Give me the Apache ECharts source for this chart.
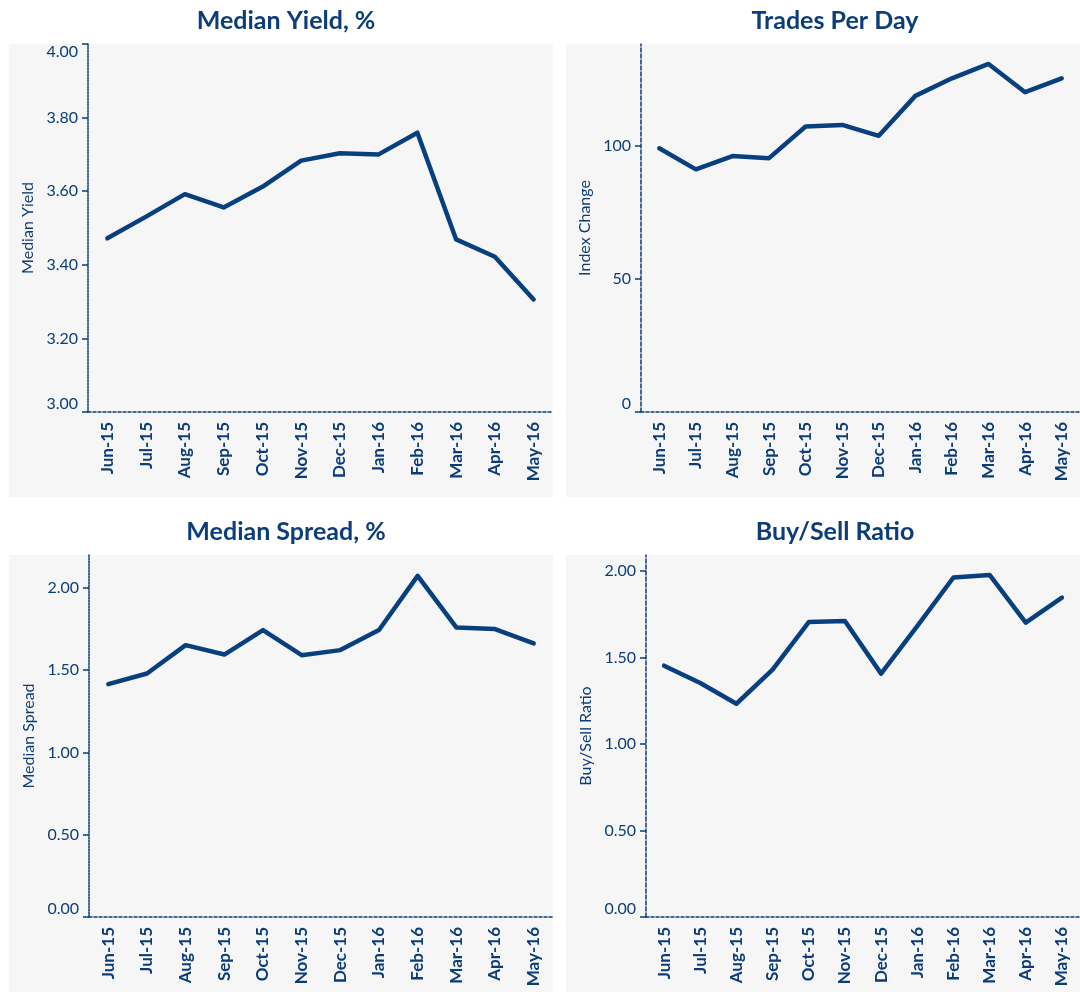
<!DOCTYPE html>
<html>
<head>
<meta charset="utf-8">
<script src="https://cdn.jsdelivr.net/npm/echarts@6/dist/echarts.min.js"></script>
<style>
  html, body { margin: 0; padding: 0; background: #fff; overflow: hidden; }
  .panel { position: absolute; background: #f6f6f6; }
  #chart { position: absolute; left: 0; top: 0; width: 1080px; height: 992px; }
</style>
</head>
<body>
<div class="panel" style="left:9px;top:44px;width:544px;height:453px"></div>
<div class="panel" style="left:566px;top:44px;width:528px;height:453px"></div>
<div class="panel" style="left:9px;top:555px;width:544px;height:437px"></div>
<div class="panel" style="left:566px;top:555px;width:528px;height:437px"></div>
<div id="chart"></div>
<script>
// months on the x axis
var months = ['Jun-15', 'Jul-15', 'Aug-15', 'Sep-15', 'Oct-15', 'Nov-15',
              'Dec-15', 'Jan-16', 'Feb-16', 'Mar-16', 'Apr-16', 'May-16'];

// series values
var yieldVals  = [3.472, 3.531, 3.592, 3.556, 3.612, 3.683, 3.703, 3.700, 3.759, 3.469, 3.422, 3.306];
var tradesVals = [99.1, 91.2, 96.2, 95.4, 107.3, 107.9, 103.8, 118.8, 125.4, 130.8, 120.2, 125.4];
var spreadVals = [1.415, 1.480, 1.652, 1.595, 1.744, 1.591, 1.622, 1.744, 2.073, 1.760, 1.750, 1.663];
var ratioVals  = [1.453, 1.353, 1.233, 1.430, 1.705, 1.711, 1.407, 1.682, 1.963, 1.978, 1.702, 1.847];

// y tick labels
var yieldTicks  = [3.0, 3.2, 3.4, 3.6, 3.8, 4.0];
var tradesTicks = [0, 50, 100];
var spreadTicks = [0, 0.5, 1.0, 1.5, 2.0];
var ratioTicks  = [0, 0.5, 1.0, 1.5, 2.0];

var blue = '#0c3d7a';
var lineBlue = '#08407f';
var font = 'Lato, "Open Sans", sans-serif';

var panels = [
    {title: 'Median Yield, %', name: 'Median Yield', data: yieldVals, ticks: yieldTicks,
     min: 3, max: 4, digits: 2, center: 281, titleTop: 3, topAlign: 'top',
     grid: {left: 88, top: 44, width: 465, height: 368}, nameGap: 52, dash: [2, 1]},
    {title: 'Trades Per Day', name: 'Index Change', data: tradesVals, ticks: tradesTicks,
     min: 0, max: 138.3, digits: 0, center: 830, titleTop: 3, topAlign: 'middle',
     grid: {left: 641, top: 44, width: 453, height: 368}, nameGap: 48, dash: [4, 2]},
    {title: 'Median Spread, %', name: 'Median Spread', data: spreadVals, ticks: spreadTicks,
     min: 0, max: 2.2, digits: 2, center: 281, titleTop: 514, topAlign: 'middle',
     grid: {left: 89, top: 555, width: 464, height: 362}, nameGap: 52, dash: [2, 1]},
    {title: 'Buy/Sell Ratio', name: 'Buy/Sell Ratio', data: ratioVals, ticks: ratioTicks,
     min: 0, max: 2.093, digits: 2, center: 830, titleTop: 514, topAlign: 'middle',
     grid: {left: 646, top: 555, width: 448, height: 362}, nameGap: 52, dash: [4, 2]}
];

var option = {
    animation: false,
    title: [], grid: [], xAxis: [], yAxis: [], series: []
};

panels.forEach(function (p, i) {
    option.title.push({
        text: p.title,
        left: p.center,
        textAlign: 'center',
        top: p.titleTop,
        textStyle: {color: blue, fontFamily: font, fontWeight: 'bold', fontSize: 25}
    });
    option.grid.push(Object.assign({containLabel: false}, p.grid));
    option.xAxis.push({
        type: 'category',
        gridIndex: i,
        data: months,
        boundaryGap: true,
        axisLine: {lineStyle: {color: blue, width: 1.5, type: [3, 2]}},
        axisTick: {length: 8, lineStyle: {color: blue, width: 1.5}},
        axisLabel: {
            interval: 0, rotate: 90, margin: 10,
            color: blue, fontFamily: font, fontWeight: 'bold', fontSize: 17
        },
        splitLine: {show: false}
    });
    option.yAxis.push({
        type: 'value',
        gridIndex: i,
        min: p.min,
        max: p.max,
        name: p.name,
        nameLocation: 'middle',
        nameGap: p.nameGap,
        nameTextStyle: {color: blue, fontFamily: font, fontSize: 16},
        axisLine: {show: true, lineStyle: {color: blue, width: 1.5, type: p.dash}},
        axisTick: {show: true, length: 6, customValues: p.ticks, lineStyle: {color: blue, width: 1.5}},
        axisLabel: {
            customValues: p.ticks,
            margin: 10,
            color: blue, fontFamily: font, fontSize: 16,
            verticalAlignMinLabel: 'bottom',
            verticalAlignMaxLabel: p.topAlign,
            formatter: function (v) { return v.toFixed(p.digits); }
        },
        splitLine: {show: false}
    });
    option.series.push({
        type: 'line',
        xAxisIndex: i,
        yAxisIndex: i,
        data: p.data,
        symbol: 'none',
        lineStyle: {color: lineBlue, width: 4.5, join: 'round', cap: 'round'}
    });
});

var myChart = echarts.init(document.getElementById('chart'));
myChart.setOption(option);
</script>
</body>
</html>
